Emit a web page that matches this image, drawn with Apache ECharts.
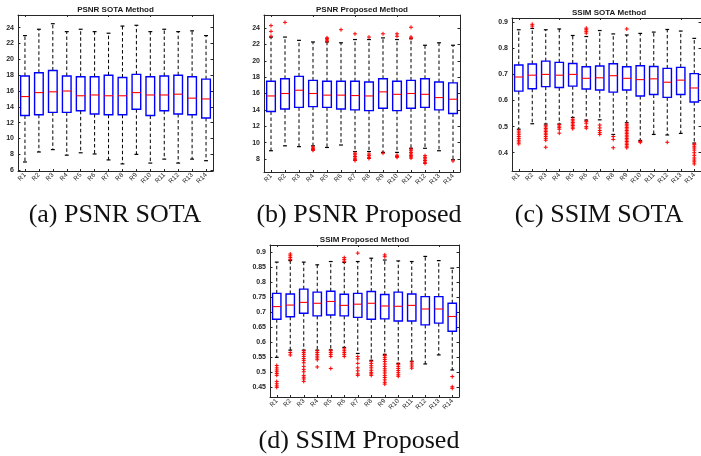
<!DOCTYPE html>
<html>
<head>
<meta charset="utf-8">
<script src="https://cdn.jsdelivr.net/npm/echarts@6/dist/echarts.min.js"></script>
<style>
html,body{margin:0;padding:0;background:#fff;}
#chart{width:701px;height:456px;}
</style>
</head>
<body>
<div id="chart"></div>
<script>
const categories = ['R1','R2','R3','R4','R5','R6','R7','R8','R9','R10','R11','R12','R13','R14'];

// (a) PSNR SOTA
const psnrSotaLow  = [7.04, 8.3, 8.6, 7.9, 8.2, 8.05, 7.3, 6.8, 8.0, 6.9, 7.4, 6.9, 7.4, 7.2];
const psnrSotaQ1   = [12.9, 13.0, 13.3, 13.3, 13.5, 13.1, 13.0, 13.0, 13.7, 12.9, 13.5, 13.1, 13.0, 12.6];
const psnrSotaMed  = [15.3, 15.8, 15.9, 16.0, 15.4, 15.5, 15.4, 15.4, 15.8, 15.5, 15.5, 15.6, 15.1, 15.0];
const psnrSotaQ3   = [17.9, 18.3, 18.6, 17.9, 17.8, 17.8, 18.0, 17.7, 18.1, 17.8, 17.9, 18.0, 17.8, 17.5];
const psnrSotaHigh = [23.0, 23.8, 24.5, 23.5, 23.8, 23.5, 23.3, 24.2, 24.3, 23.5, 23.8, 23.5, 23.6, 23.0];
const psnrSotaOut  = [[],[],[],[],[],[],[],[],[],[],[],[],[],[]];

// (b) PSNR Proposed
const psnrPropLow  = [9.0, 9.6, 9.5, 9.6, 9.4, 9.7, 8.9, 8.9, 8.8, 8.8, 9.3, 9.3, 9.0, 7.9];
const psnrPropQ1   = [13.8, 14.1, 14.3, 14.4, 14.3, 14.1, 14.0, 13.9, 14.2, 13.9, 14.2, 14.3, 14.0, 13.55];
const psnrPropMed  = [15.7, 16.0, 16.4, 16.0, 15.8, 15.8, 15.75, 15.7, 16.2, 15.9, 16.0, 15.9, 15.5, 15.3];
const psnrPropQ3   = [17.5, 17.8, 18.1, 17.6, 17.5, 17.5, 17.5, 17.4, 17.8, 17.5, 17.6, 17.8, 17.4, 17.3];
const psnrPropHigh = [22.9, 22.9, 22.5, 22.3, 22.3, 22.2, 22.6, 22.6, 22.8, 22.6, 22.7, 21.9, 22.2, 21.9];
const psnrPropOut  = [
  [24.3, 23.6, 23.0],
  [24.7],
  [],
  [9.45, 9.3, 9.15, 9.05],
  [22.8, 22.7, 22.55, 22.4],
  [23.8],
  [23.3, 8.7, 8.5, 8.3, 8.1, 7.95, 7.8],
  [22.9, 8.6, 8.4, 8.2, 8.05],
  [23.3, 8.7],
  [23.3, 23.0, 8.45, 8.3, 8.2],
  [24.1, 22.9, 22.75, 9.2, 9.0, 8.8, 8.6, 8.4, 8.25, 8.1],
  [8.4, 8.2, 8.0, 7.8, 7.6, 7.45],
  [],
  [7.75]
];

// (c) SSIM SOTA
const ssimSotaLow  = [0.49, 0.511, 0.51, 0.51, 0.535, 0.525, 0.526, 0.47, 0.515, 0.447, 0.47, 0.468, 0.474, 0.437];
const ssimSotaQ1   = [0.636, 0.645, 0.653, 0.65, 0.655, 0.644, 0.64, 0.632, 0.64, 0.617, 0.623, 0.612, 0.623, 0.594];
const ssimSotaMed  = [0.690, 0.697, 0.700, 0.697, 0.700, 0.685, 0.687, 0.695, 0.685, 0.680, 0.683, 0.670, 0.678, 0.648];
const ssimSotaQ3   = [0.736, 0.740, 0.751, 0.746, 0.742, 0.729, 0.732, 0.741, 0.729, 0.733, 0.730, 0.723, 0.727, 0.703];
const ssimSotaHigh = [0.871, 0.876, 0.871, 0.874, 0.849, 0.845, 0.868, 0.855, 0.851, 0.857, 0.862, 0.872, 0.866, 0.838];
const ssimSotaOut  = [
  [0.483, 0.476, 0.469, 0.462, 0.455, 0.448, 0.441, 0.434],
  [0.892, 0.885],
  [0.505, 0.499, 0.493, 0.487, 0.481, 0.475, 0.469, 0.462, 0.455, 0.448, 0.421],
  [0.508, 0.502, 0.496, 0.49, 0.475],
  [0.528, 0.522, 0.516, 0.51, 0.504, 0.498, 0.492],
  [0.877, 0.871, 0.865, 0.858, 0.52, 0.513, 0.5, 0.494],
  [0.506, 0.495, 0.485, 0.477, 0.47],
  [0.462, 0.451, 0.419],
  [0.874, 0.509, 0.503, 0.497, 0.491, 0.485, 0.479, 0.473, 0.467, 0.461, 0.455, 0.449, 0.443, 0.437, 0.431, 0.425, 0.419],
  [0.443, 0.44],
  [],
  [0.44],
  [],
  [0.432, 0.425, 0.418, 0.41, 0.40, 0.39, 0.38, 0.372, 0.365, 0.357]
];

// (d) SSIM Proposed
const ssimPropLow  = [0.55, 0.574, 0.574, 0.574, 0.575, 0.583, 0.563, 0.54, 0.56, 0.53, 0.537, 0.528, 0.558, 0.508];
const ssimPropQ1   = [0.677, 0.685, 0.697, 0.688, 0.691, 0.688, 0.683, 0.677, 0.678, 0.671, 0.671, 0.658, 0.664, 0.637];
const ssimPropMed  = [0.719, 0.724, 0.733, 0.730, 0.736, 0.723, 0.727, 0.730, 0.721, 0.720, 0.723, 0.711, 0.711, 0.686];
const ssimPropQ3   = [0.763, 0.761, 0.777, 0.767, 0.770, 0.760, 0.763, 0.769, 0.759, 0.767, 0.761, 0.752, 0.752, 0.730];
const ssimPropHigh = [0.867, 0.872, 0.867, 0.858, 0.869, 0.866, 0.869, 0.880, 0.874, 0.871, 0.869, 0.886, 0.872, 0.847];
const ssimPropOut  = [
  [0.523, 0.515, 0.508, 0.502, 0.496, 0.49, 0.47, 0.462, 0.455, 0.45],
  [0.894, 0.888, 0.882, 0.876, 0.566, 0.558],
  [0.572, 0.566, 0.56, 0.553, 0.546, 0.54, 0.532, 0.52, 0.51, 0.502, 0.49, 0.484, 0.478, 0.47],
  [0.572, 0.566, 0.56, 0.554, 0.548, 0.542, 0.518],
  [0.572, 0.566, 0.56, 0.553, 0.513],
  [0.882, 0.876, 0.87, 0.578, 0.572, 0.566, 0.56, 0.553],
  [0.897, 0.553, 0.545, 0.53, 0.515, 0.505, 0.495, 0.49],
  [0.537, 0.53, 0.522, 0.515, 0.507, 0.5, 0.495, 0.49],
  [0.891, 0.885, 0.556, 0.55, 0.543, 0.536, 0.528, 0.52, 0.512, 0.505, 0.498, 0.49, 0.483, 0.475, 0.467, 0.461],
  [0.527, 0.52, 0.513, 0.506, 0.499, 0.492, 0.487],
  [0.535, 0.528, 0.521, 0.514],
  [],
  [],
  [0.486, 0.452, 0.447]
];

const psnrSotaTicks = [6, 8, 10, 12, 14, 16, 18, 20, 22, 24];
const psnrPropTicks = [8, 10, 12, 14, 16, 18, 20, 22, 24];
const ssimSotaTicks = [0.4, 0.5, 0.6, 0.7, 0.8, 0.9];
const ssimPropTicks = [0.45, 0.5, 0.55, 0.6, 0.65, 0.7, 0.75, 0.8, 0.85, 0.9];

const titles = ['PSNR SOTA Method', 'PSNR Proposed Method', 'SSIM SOTA Method', 'SSIM Proposed Method'];
const captions = ['(a) PSNR SOTA', '(b) PSNR Proposed', '(c) SSIM SOTA', '(d) SSIM Proposed'];

const panels = [
  {low: psnrSotaLow, q1: psnrSotaQ1, med: psnrSotaMed, q3: psnrSotaQ3, high: psnrSotaHigh, out: psnrSotaOut, ticks: psnrSotaTicks,
   grid: {left: 18, top: 15, width: 195, height: 156}, min: 5.9, max: 25.6, cap: [115, 215]},
  {low: psnrPropLow, q1: psnrPropQ1, med: psnrPropMed, q3: psnrPropQ3, high: psnrPropHigh, out: psnrPropOut, ticks: psnrPropTicks,
   grid: {left: 264, top: 15, width: 196, height: 157}, min: 6.4, max: 25.6, cap: [359, 215]},
  {low: ssimSotaLow, q1: ssimSotaQ1, med: ssimSotaMed, q3: ssimSotaQ3, high: ssimSotaHigh, out: ssimSotaOut, ticks: ssimSotaTicks,
   grid: {left: 512, top: 18, width: 194, height: 153}, min: 0.33, max: 0.916, cap: [599, 215]},
  {low: ssimPropLow, q1: ssimPropQ1, med: ssimPropMed, q3: ssimPropQ3, high: ssimPropHigh, out: ssimPropOut, ticks: ssimPropTicks,
   grid: {left: 270, top: 245, width: 189, height: 152}, min: 0.418, max: 0.924, cap: [359, 441]}
];

const AX = '#262626';
const FONT = '"Liberation Sans", Arial, sans-serif';

function renderBox(params, api) {
  const i = api.value(0);
  const lo = api.value(1), q1 = api.value(2), md = api.value(3), q3 = api.value(4), hi = api.value(5);
  const band = api.size([1, 0])[0];
  const x = api.coord([i, md])[0];
  const yLo = api.coord([i, lo])[1];
  const yQ1 = api.coord([i, q1])[1];
  const yMd = api.coord([i, md])[1];
  const yQ3 = api.coord([i, q3])[1];
  const yHi = api.coord([i, hi])[1];
  const bw = band * 0.31;
  const cw = band * 0.14;
  const dash = {stroke: '#000', lineWidth: 1, lineDash: [3.5, 2.5]};
  return {
    type: 'group',
    children: [
      {type: 'line', shape: {x1: x, y1: yQ3, x2: x, y2: yHi}, style: dash},
      {type: 'line', shape: {x1: x, y1: yQ1, x2: x, y2: yLo}, style: dash},
      {type: 'line', shape: {x1: x - cw, y1: yHi, x2: x + cw, y2: yHi}, style: {stroke: '#000', lineWidth: 1.2}},
      {type: 'line', shape: {x1: x - cw, y1: yLo, x2: x + cw, y2: yLo}, style: {stroke: '#000', lineWidth: 1.2}},
      {type: 'rect', shape: {x: x - bw, y: yQ3, width: 2 * bw, height: yQ1 - yQ3},
        style: {fill: '#ffffff', stroke: '#0000ff', lineWidth: 1.4}},
      {type: 'line', shape: {x1: x - bw, y1: yMd, x2: x + bw, y2: yMd}, style: {stroke: '#ff0000', lineWidth: 1.1}}
    ]
  };
}

function renderOut(params, api) {
  const p = api.coord([api.value(0), api.value(1)]);
  const s = 2;
  const st = {stroke: '#ff0000', lineWidth: 1};
  return {
    type: 'group',
    children: [
      {type: 'line', shape: {x1: p[0] - s, y1: p[1], x2: p[0] + s, y2: p[1]}, style: st},
      {type: 'line', shape: {x1: p[0], y1: p[1] - s, x2: p[0], y2: p[1] + s}, style: st}
    ]
  };
}

const grids = [], xAxes = [], yAxes = [], series = [], graphics = [];

panels.forEach((p, k) => {
  grids.push(Object.assign({containLabel: false}, p.grid));
  const xBase = {
    type: 'category', data: categories, gridIndex: k,
    axisLine: {show: true, onZero: false, lineStyle: {color: AX, width: 1}},
    axisTick: {show: true, inside: true, length: 2, alignWithLabel: true, lineStyle: {color: AX}},
    splitLine: {show: false}
  };
  xAxes.push(Object.assign({}, xBase, {
    position: 'bottom',
    axisLabel: {show: true, rotate: 45, fontSize: 6.5, color: AX, fontFamily: FONT, margin: 3, interval: 0}
  }));
  xAxes.push(Object.assign({}, xBase, {position: 'top', axisLabel: {show: false}}));
  const yBase = {
    type: 'value', gridIndex: k, min: p.min, max: p.max, scale: true,
    axisLine: {show: true, onZero: false, lineStyle: {color: AX, width: 1}},
    axisTick: {show: true, inside: true, length: 2.5, customValues: p.ticks, lineStyle: {color: AX}},
    splitLine: {show: false}
  };
  yAxes.push(Object.assign({}, yBase, {
    position: 'left',
    axisLabel: {show: true, customValues: p.ticks, fontSize: 7, color: AX, fontFamily: FONT, margin: 4, fontWeight: 'bold'}
  }));
  yAxes.push(Object.assign({}, yBase, {position: 'right', axisLabel: {show: false}}));

  const boxData = categories.map((c, i) => [i, p.low[i], p.q1[i], p.med[i], p.q3[i], p.high[i]]);
  series.push({
    type: 'custom', xAxisIndex: 2 * k, yAxisIndex: 2 * k, renderItem: renderBox,
    encode: {x: 0, y: [1, 2, 3, 4, 5]}, data: boxData, silent: true, clip: false, z: 2
  });
  const outData = [];
  p.out.forEach((vals, i) => vals.forEach(v => outData.push([i, v])));
  series.push({
    type: 'custom', xAxisIndex: 2 * k, yAxisIndex: 2 * k, renderItem: renderOut,
    encode: {x: 0, y: 1}, data: outData, silent: true, clip: false, z: 3
  });

  graphics.push({
    type: 'text', x: p.grid.left + p.grid.width / 2, y: p.grid.top - 5,
    style: {text: titles[k], font: 'bold 8px ' + FONT, fill: '#1a1a1a', textAlign: 'center', textVerticalAlign: 'middle'}
  });
  graphics.push({
    type: 'text', x: p.cap[0], y: p.cap[1],
    style: {text: captions[k], font: '26px "Liberation Serif", "Times New Roman", serif', fill: '#111',
      textAlign: 'center', textVerticalAlign: 'middle'}
  });
});

const chart = echarts.init(document.getElementById('chart'), null, {renderer: 'canvas'});
chart.setOption({
  animation: false,
  backgroundColor: '#ffffff',
  grid: grids,
  xAxis: xAxes,
  yAxis: yAxes,
  series: series,
  graphic: graphics
});
</script>
</body>
</html>
